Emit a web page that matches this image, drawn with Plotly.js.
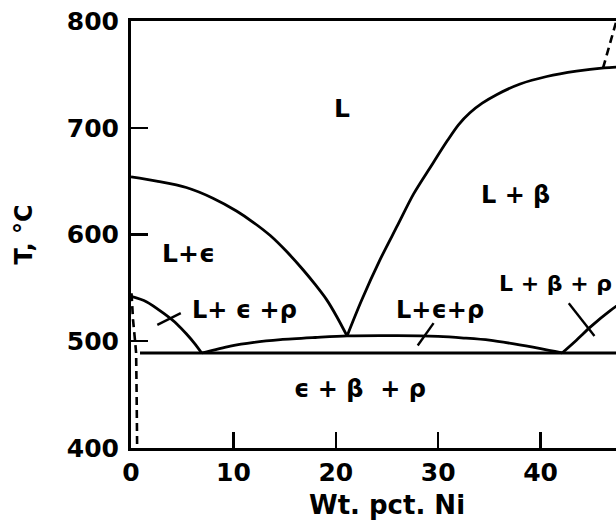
<!DOCTYPE html>
<html>
<head>
<meta charset="utf-8">
<script src="https://cdn.plot.ly/plotly-3.0.1.min.js"></script>
<style>
html,body{margin:0;padding:0;overflow:hidden;background:#fff;}
#chart{width:643px;height:520px;}
</style>
</head>
<body>
<div id="chart"></div>
<script>
// Mg-rich liquidus (L / L+eps)
const liqMgX = [0, 2.5, 5.4, 8, 10.3, 12, 13.6, 15.2, 16.8, 18, 19.1, 20.1, 21.1];
const liqMgY = [654, 650, 644, 634, 622, 611, 599, 584, 567, 553, 539, 523, 505];
// beta liquidus (L / L+beta)
const liqBetaX = [21.1, 22.5, 24.3, 26, 27.6, 29.3, 30.9, 32, 33.1, 34.3, 35.7, 38, 40.6, 43.5, 46.2, 50];
const liqBetaY = [505, 538, 576, 608, 638, 664, 688, 703, 714, 723, 731, 741, 748, 753, 756, 758];
// L+eps / L+eps+rho boundary near Mg side
const epsRhoX = [0, 1.5, 3.2, 4.5, 5.4, 6.2, 6.9];
const epsRhoY = [542, 537, 526, 516, 507, 498, 489];
// three-phase boundary between the two eutectic points
const triX = [6.9, 9.7, 12, 14.6, 18, 21.1, 26, 30, 32.5, 35, 37.4, 40, 42.1];
const triY = [489, 495.5, 499, 501.5, 503.5, 505, 505.3, 504.5, 503, 501, 497.5, 493, 489];
// L+beta / L+beta+rho boundary
const betaRhoX = [42.1, 43.5, 44.9, 46.8, 48.5, 50];
const betaRhoY = [489, 501, 513.7, 528.7, 540, 548];
// eutectic isotherm
const isoX = [0.88, 50];
const isoY = [489, 489];
// dashed solvus lines
const solvMgX = [0.05, 0.2, 0.4, 0.5, 0.55, 0.6];
const solvMgY = [545, 520, 500, 489, 450, 400];
const solvBetaX = [46.1, 47.4];
const solvBetaY = [756, 800];
// short pointer lines for region labels
const ptr1X = [2.57, 4.86], ptr1Y = [515.3, 526.3];
const ptr2X = [28.0, 29.55], ptr2Y = [496, 517];
const ptr3X = [42.75, 45.26], ptr3Y = [535.6, 505];

// region labels
const labelText = ["L", "L + β", "L+ϵ", "L+ ϵ +ρ", "L+ϵ+ρ", "L + β + ρ", "ϵ + β  + ρ"];
const labelX = [20.6, 37.5, 5.6, 11.1, 30.2, 41.5, 22.4];
const labelY = [718, 637, 582, 529, 529, 554, 455];
const labelSize = [25, 24, 25, 24, 24, 22, 24];

const xTicks = [0, 10, 20, 30, 40];
const yTicks = [400, 500, 600, 700, 800];

const solid = {color: '#000', width: 2.8, shape: 'spline', smoothing: 0.8};
const straight = {color: '#000', width: 2.8};
const dashed = {color: '#000', width: 2.6, dash: '8px,5px'};
function tr(x, y, line) {
  return {x: x, y: y, type: 'scatter', mode: 'lines', line: line, hoverinfo: 'skip', showlegend: false};
}
const data = [
  tr(liqMgX, liqMgY, solid),
  tr(liqBetaX, liqBetaY, solid),
  tr(epsRhoX, epsRhoY, solid),
  tr(triX, triY, solid),
  tr(betaRhoX, betaRhoY, solid),
  tr(isoX, isoY, straight),
  tr(solvMgX, solvMgY, dashed),
  tr(solvBetaX, solvBetaY, dashed),
  tr(ptr1X, ptr1Y, {color: '#000', width: 2.4}),
  tr(ptr2X, ptr2Y, {color: '#000', width: 2.4}),
  tr(ptr3X, ptr3Y, {color: '#000', width: 2.4})
];

const fam = 'DejaVu Sans, sans-serif';
const annotations = labelText.map((t, i) => ({
  x: labelX[i], y: labelY[i], xref: 'x', yref: 'y', text: t, showarrow: false,
  font: {family: fam, size: labelSize[i], color: '#000', weight: 'bold'}
}));

const layout = {
  width: 643, height: 520,
  margin: {l: 131, r: 0, t: 21, b: 72, pad: 0},
  paper_bgcolor: '#fff', plot_bgcolor: '#fff',
  font: {family: fam, size: 25, color: '#000'},
  xaxis: {
    range: [0, 50], tickvals: xTicks, ticktext: xTicks.map(String),
    ticks: 'inside', ticklen: 16, tickwidth: 2.2, tickcolor: '#000',
    showline: true, linewidth: 3, linecolor: '#000', mirror: true,
    showgrid: false, zeroline: false, ticklabelstandoff: 0,
    tickfont: {family: fam, size: 25, color: '#000', weight: 'bold'},
    title: {text: 'Wt. pct. Ni', font: {family: fam, size: 26, color: '#000', weight: 'bold'}, standoff: 10}
  },
  yaxis: {
    range: [400, 800], tickvals: yTicks, ticktext: yTicks.map(String),
    ticks: 'inside', ticklen: 17, tickwidth: 2.2, tickcolor: '#000',
    showline: true, linewidth: 3, linecolor: '#000', mirror: false,
    showgrid: false, zeroline: false, ticklabelstandoff: 4,
    tickfont: {family: fam, size: 25, color: '#000', weight: 'bold'},
    title: {text: 'T, °C', font: {family: fam, size: 24, color: '#000', weight: 'bold'}, standoff: 28}
  },
  annotations: annotations
};

Plotly.newPlot('chart', data, layout, {staticPlot: true, displayModeBar: false, responsive: false});
</script>
</body>
</html>
